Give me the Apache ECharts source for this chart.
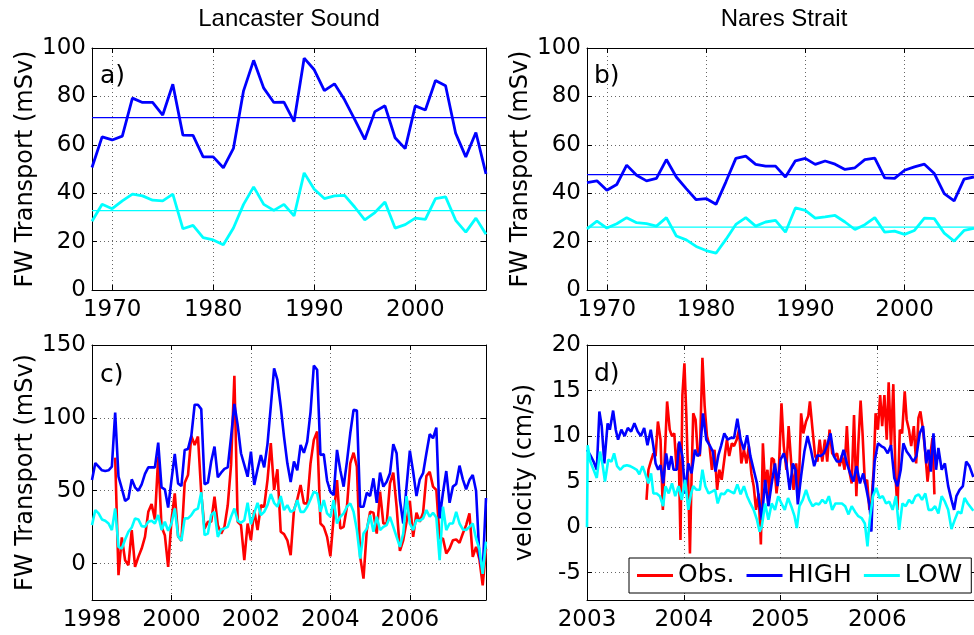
<!DOCTYPE html>
<html><head><meta charset="utf-8">
<script src="https://cdn.jsdelivr.net/npm/echarts@6/dist/echarts.min.js"></script>
<style>html,body{margin:0;padding:0;background:#fff}#c{width:974px;height:635px}</style>
</head><body><div id="c"></div><script>
// ---------- data ----------
const annualYears = [1968,1969,1970,1971,1972,1973,1974,1975,1976,1977,1978,1979,1980,1981,1982,1983,1984,1985,1986,1987,1988,1989,1990,1991,1992,1993,1994,1995,1996,1997,1998,1999,2000,2001,2002,2003,2004,2005,2006,2007];
const lancHigh = [50.6,63.3,62,63.6,79.3,77.5,77.5,72.3,85,64,63.9,55,55,50.5,58.5,82.3,94.9,83.4,77.5,77.6,69.6,95.8,91,82.4,85.2,78.6,70.5,62.2,73.7,76.1,62.9,58.4,76.1,74.4,86.6,84.4,64.7,55,65.1,48];
const lancLow = [28.4,35.4,33.6,36.8,39.6,38.9,37.1,36.8,39.6,25.3,26.7,21.6,20.7,18.7,25.6,35.4,42.6,35.4,32.9,35.4,30.6,48.4,41.6,37.8,38.9,39.1,34.3,29,32,36.4,25.6,27,29.7,29.2,37.8,38.5,28.8,23.9,29.7,23];
const lancHighMean = 71.2, lancLowMean = 32.8;
const naresHigh = [44.4,45.1,41.2,43.6,51.6,47.4,45.1,46.1,53.9,46.7,41.9,37.3,37.8,35.4,44.7,54.4,55.3,51.9,51.2,51.2,46.7,53.4,54.4,51.9,53.3,52,49.8,50.5,53.9,54.5,46.3,46.1,49.5,50.9,52,48.1,39.8,36.8,45.8,46.7];
const naresLow = [25.3,28.5,25.6,27.4,29.9,27.8,27.4,26.4,29.9,22.3,20.7,18,16.3,15.2,20.9,27.1,29.9,26.4,28.1,28.8,23.9,33.9,32.9,29.7,30.2,30.8,28.1,25,27,29.9,23.9,24.3,23,24.6,29.7,29.5,23.5,20.2,24.6,25.5];
const naresHighMean = 47.7, naresLowMean = 26.0;

// panel c: monthly, Jan 1998 .. Dec 2007
const monthlyStart = 1998;
const cHigh = [57.3,69,66.5,64,63.5,64,66.5,103.7,59.6,51.6,43,44.7,57.8,52.3,50,54.4,61.5,66,66,66,83,52.3,51,38.5,57.3,75.2,55,53.2,78,78.7,87.6,109,109,106,54.4,55.5,70,80.3,59.2,62.4,65,66,87,109.6,95,75.7,67.7,59.6,76.8,54,64.7,74.5,66,82,107.8,134,126,107.8,87,68.8,56,70,64,81.4,76,83.7,104,135.8,133,74.5,75,57,49.3,47,78,64,52.8,70,89.4,105.5,105,39,39,48.6,46.3,58.5,41.7,62.4,52.8,56.2,62,82,75.7,43.6,27.5,52.8,77.5,63,46.3,57.8,62,75.7,88.8,86,93.3,31,48.6,63.5,41.7,52.8,54.6,67.2,57.8,51,57.3,60.8,50,5,-5,45];
const cObs = [null,null,null,null,null,null,null,72.7,-8,18,2.3,-1.1,23,-2.3,4.6,10.3,18.3,35.5,40.8,30.3,73.4,25.2,19.5,-2.3,29.8,48.2,18.8,15.6,55.5,60.8,87.6,81.4,87.2,48.2,24,28.7,28.7,45.9,26.4,20.6,25.2,40,67.7,128.9,28.7,26.4,2.3,27.5,16,36.7,23,40,39,57.3,82.6,50.5,64.7,21.8,20.2,16,5.7,36.7,44,53.9,41.3,41.3,68.8,84.9,90.6,27.5,25.2,18.3,5,32,57.3,24,25.2,39,68.8,76.1,66.5,4.6,-10.3,22.9,35.5,34.9,20.6,49.3,27.5,27.5,55,62.4,39,8.7,16,28.7,43.1,18.3,34.9,28.7,34.9,60,63,52.8,50.5,17.2,17.2,6.9,10.3,16,16.5,14.2,20.6,26.4,34.4,4.6,11.5,3,-15,10];
const cLow = [26.4,36.7,34.4,30.3,29.4,27.5,23,37.8,11.5,10.3,16.5,21.8,24.8,31,30.3,25.7,25.2,28.7,29.4,27.5,33.3,23,28.7,22.5,27.5,37.8,18.8,15.6,31,31,33.3,36.7,37.8,48.9,19.5,20.6,33.3,35.5,18.3,23.4,24.1,25.2,32.1,37.8,29.4,28,29.8,41.7,27,34.4,41.7,33.3,35.5,40.1,47.7,41.7,39,46.3,36.7,40.1,35.5,36.7,43.6,35.5,35.5,39,44,49.3,48.2,35.5,43.6,34.4,32.1,43.6,27.5,32.1,34.4,39,41.3,35.5,23,3.4,20.6,24,33.3,21.8,32.1,23,25.2,26.4,32.1,25.2,18.3,11.5,20.6,46.3,27.5,23,29.8,29.4,31,36.7,32.1,34.9,31.7,2.3,39,23,27.5,27.5,35.5,27.5,23.4,23,25.2,27.5,17.2,10,-7,15];

// panel d: [decimal year, velocity cm/s]
const dObs = [[2003.615,3],[2003.635,6.3],[2003.659,7.2],[2003.686,8.1],[2003.709,7.8],[2003.733,11.6],[2003.760,9.6],[2003.784,1.9],[2003.804,7.8],[2003.828,13.8],[2003.855,10.7],[2003.878,10],[2003.902,10.3],[2003.926,6.3],[2003.946,9.2],[2003.966,-1.4],[2003.986,14.5],[2004.007,18],[2004.027,12.2],[2004.047,4.8],[2004.064,-2.9],[2004.081,5.6],[2004.098,12.5],[2004.122,11.8],[2004.142,8.5],[2004.166,7.8],[2004.193,18.6],[2004.216,13.3],[2004.240,10],[2004.267,8.9],[2004.291,6.3],[2004.318,8.5],[2004.345,4.1],[2004.368,6.3],[2004.392,5.2],[2004.419,7.4],[2004.446,9.6],[2004.470,7.8],[2004.497,9.2],[2004.520,8.9],[2004.547,9.6],[2004.571,10.7],[2004.595,7],[2004.622,8.5],[2004.649,7],[2004.672,8.9],[2004.699,5.9],[2004.723,4.5],[2004.747,1.9],[2004.774,3.7],[2004.797,-1.9],[2004.818,9.2],[2004.841,4.5],[2004.865,6.3],[2004.885,3.4],[2004.909,7.6],[2004.932,7.4],[2004.959,3.7],[2004.983,6.3],[2005.010,13.6],[2005.034,8.9],[2005.061,6.3],[2005.084,11.1],[2005.111,7],[2005.135,4.1],[2005.162,7],[2005.186,3.4],[2005.213,12.5],[2005.236,10.3],[2005.264,11.6],[2005.287,12.2],[2005.304,13.8],[2005.331,10.7],[2005.358,7.8],[2005.382,7.2],[2005.405,9.6],[2005.432,7.2],[2005.459,9.6],[2005.483,7.2],[2005.507,10.7],[2005.534,8.1],[2005.561,7.8],[2005.584,8.1],[2005.611,6.7],[2005.635,7.9],[2005.662,6.3],[2005.686,11.1],[2005.709,6.3],[2005.736,4.8],[2005.760,12.3],[2005.784,3.4],[2005.804,9],[2005.828,13.9],[2005.848,10.3],[2005.872,4.8],[2005.895,5.2],[2005.919,1.9],[2005.939,2.6],[2005.963,6.3],[2005.983,12.5],[2006.007,10.7],[2006.030,14.5],[2006.051,11.1],[2006.074,14.5],[2006.098,9.6],[2006.118,15.9],[2006.142,8.9],[2006.166,15.7],[2006.189,5.6],[2006.209,1.9],[2006.233,10.7],[2006.257,10.3],[2006.284,14.9],[2006.304,11.8],[2006.328,10.7],[2006.351,8.9],[2006.378,11.1],[2006.402,7],[2006.426,12],[2006.446,12.7],[2006.473,10.7],[2006.497,8.1],[2006.520,5],[2006.547,7.8],[2006.571,9.8],[2006.591,3.6]];
const dHigh = [[2003.000,8.5],[2003.034,7.9],[2003.068,7.2],[2003.101,6.3],[2003.128,12.7],[2003.152,11.1],[2003.179,7.0],[2003.213,11.4],[2003.236,10.7],[2003.270,12.8],[2003.297,10.7],[2003.321,9.6],[2003.355,10.7],[2003.389,10],[2003.422,10.9],[2003.456,10.5],[2003.490,11.4],[2003.524,10.5],[2003.557,10],[2003.591,10.9],[2003.625,9],[2003.659,10.7],[2003.686,8.9],[2003.709,7],[2003.736,6.3],[2003.760,6.8],[2003.787,4.8],[2003.818,8.1],[2003.845,6.3],[2003.872,7.8],[2003.895,6.3],[2003.929,6.3],[2003.953,9.4],[2003.986,7.8],[2004.014,3.7],[2004.047,7],[2004.081,5.9],[2004.115,8.5],[2004.142,7.8],[2004.166,8.1],[2004.199,12.5],[2004.233,9.6],[2004.267,9],[2004.301,8.3],[2004.328,6.1],[2004.358,7.9],[2004.385,8.9],[2004.419,10.3],[2004.453,9.6],[2004.486,9.8],[2004.520,9.8],[2004.554,11.9],[2004.588,9.6],[2004.622,8.5],[2004.655,10.1],[2004.689,7.8],[2004.723,6.3],[2004.757,4.8],[2004.791,1.9],[2004.807,0.8],[2004.841,5.2],[2004.875,2.3],[2004.909,4.8],[2004.943,7],[2004.970,4.5],[2005.000,7.4],[2005.034,8.1],[2005.061,7],[2005.095,4.1],[2005.128,7],[2005.155,6.3],[2005.179,2.5],[2005.213,5.6],[2005.247,8.3],[2005.280,10],[2005.314,8.5],[2005.348,6.7],[2005.382,7.9],[2005.416,7.8],[2005.449,8.1],[2005.483,9],[2005.517,10.3],[2005.551,7.8],[2005.584,7.2],[2005.618,7.2],[2005.652,8.5],[2005.686,7],[2005.720,5.9],[2005.753,5],[2005.787,6.7],[2005.821,4.8],[2005.855,5.9],[2005.889,4.1],[2005.922,2.3],[2005.939,-0.5],[2005.956,4.5],[2005.973,7.2],[2006.007,9.2],[2006.041,8.9],[2006.074,8.7],[2006.108,8.1],[2006.142,9],[2006.176,5.4],[2006.209,4.5],[2006.243,6.3],[2006.270,9.2],[2006.304,8.3],[2006.338,7.8],[2006.372,7.2],[2006.405,7.8],[2006.439,10.3],[2006.473,11.1],[2006.507,7],[2006.530,8.5],[2006.554,6.1],[2006.581,10.3],[2006.608,6.3],[2006.632,8.7],[2006.666,6.3],[2006.699,7],[2006.733,4.5],[2006.767,3],[2006.794,1.9],[2006.818,3.4],[2006.851,4.1],[2006.885,4.5],[2006.919,7.2],[2006.953,6.7],[2006.993,5.5]];
const dLow = [[2003.000,0],[2003.007,9],[2003.034,7.2],[2003.068,6.3],[2003.101,5.4],[2003.135,8.3],[2003.162,6.8],[2003.186,5],[2003.220,7.4],[2003.253,7.2],[2003.280,8.1],[2003.311,6.7],[2003.345,6.3],[2003.378,6.7],[2003.412,6.8],[2003.446,6.7],[2003.480,6.5],[2003.514,6.3],[2003.541,5.8],[2003.574,6.7],[2003.601,5.9],[2003.635,4.8],[2003.662,5.9],[2003.686,3.7],[2003.720,3.7],[2003.753,3.4],[2003.787,2.3],[2003.811,4.5],[2003.845,3.7],[2003.878,4.8],[2003.912,3.4],[2003.946,4.5],[2003.980,3],[2004.014,5.2],[2004.047,1.9],[2004.074,3.6],[2004.098,4.5],[2004.132,4.1],[2004.166,4.1],[2004.193,6.3],[2004.223,4.5],[2004.257,3.7],[2004.291,3.9],[2004.324,4.1],[2004.351,2.6],[2004.385,3.7],[2004.419,3.6],[2004.453,4.1],[2004.486,3.9],[2004.520,3.7],[2004.554,4.7],[2004.588,3.6],[2004.622,4.5],[2004.655,3.4],[2004.689,2.6],[2004.723,1.9],[2004.757,0.8],[2004.784,-0.5],[2004.807,0.1],[2004.841,2.6],[2004.875,0.8],[2004.909,2.6],[2004.943,1.9],[2004.976,3.4],[2005.010,2.6],[2005.044,1.9],[2005.078,3.2],[2005.111,2.3],[2005.145,1.2],[2005.169,-0.1],[2005.196,2.3],[2005.230,3],[2005.264,4.1],[2005.297,3],[2005.331,2.3],[2005.365,2.6],[2005.399,2.5],[2005.432,3],[2005.466,2.6],[2005.500,3.4],[2005.534,1.9],[2005.568,2.6],[2005.601,2.6],[2005.635,2.6],[2005.669,2.3],[2005.703,1.4],[2005.736,2.3],[2005.770,1.7],[2005.804,1.2],[2005.838,1],[2005.872,0.4],[2005.899,-2.1],[2005.922,0.8],[2005.956,3.4],[2005.990,4.3],[2006.024,3.2],[2006.057,3.4],[2006.091,2.6],[2006.125,2.8],[2006.159,1.9],[2006.193,3.4],[2006.226,-0.3],[2006.260,2.6],[2006.294,2.3],[2006.328,3],[2006.361,2.6],[2006.395,3.4],[2006.429,3.6],[2006.463,3],[2006.497,3.7],[2006.530,1.9],[2006.564,1.9],[2006.598,2.3],[2006.632,1.5],[2006.666,3.4],[2006.699,2.8],[2006.733,1.9],[2006.767,-0.2],[2006.801,0.8],[2006.834,1.7],[2006.868,1.5],[2006.902,3.2],[2006.936,2.6],[2006.993,1.8]];

// tick labels
const ticksAnnualX = [1970,1980,1990,2000];
const ticksAnnualY = [0,20,40,60,80,100];
const ticksMonthlyX = [1998,2000,2002,2004,2006];
const ticksCY = [0,50,100,150];
const ticksDX = [2003,2004,2005,2006];
const ticksDY = [-5,0,5,10,15,20];
const titles = ['Lancaster Sound','Nares Strait'];
const panelTags = ['a)','b)','c)','d)'];
const yNames = ['FW Transport (mSv)','FW Transport (mSv)','FW Transport (mSv)','velocity (cm/s)'];

// ---------- chart ----------
const BLUE='#0000ff', CYAN='#00ffff', RED='#ff0000';
const FONT='DejaVu Sans';
const grids = [
  {left:92, top:48, width:394, height:242},
  {left:587, top:48, width:394, height:242},
  {left:92, top:345, width:394, height:255},
  {left:587, top:345, width:394, height:255}
];
const ranges = [
  {x:[1968,2007], xt:ticksAnnualX, y:[0,100], yt:ticksAnnualY},
  {x:[1968,2007], xt:ticksAnnualX, y:[0,100], yt:ticksAnnualY},
  {x:[1998,1998+119/12], xt:ticksMonthlyX, y:[-25,150], yt:ticksCY},
  {x:[2003,2007], xt:ticksDX, y:[-8,20], yt:ticksDY}
];
const gridLine = {show:true, lineStyle:{color:'#666', type:[1,3], width:1}};
const xAxes=[], yAxes=[];
ranges.forEach((r,g)=>{
  ['bottom','top'].forEach(pos=>{
    xAxes.push({type:'value', gridIndex:g, position:pos, min:r.x[0], max:r.x[1],
      axisLine:{show:true, onZero:false, lineStyle:{color:'#000', width:1}},
      axisTick:{show:true, inside:true, length:5, customValues:r.xt, lineStyle:{color:'#000'}},
      axisLabel:{show:pos==='bottom', customValues:r.xt, margin:9, color:'#000', fontFamily:FONT, fontSize:23,
        formatter:v=>String(Math.round(v))},
      splitLine: pos==='bottom' ? gridLine : {show:false}
    });
  });
  ['left','right'].forEach(pos=>{
    yAxes.push({type:'value', gridIndex:g, position:pos, min:r.y[0], max:r.y[1],
      name: pos==='left' ? yNames[g] : '', nameLocation:'middle', nameGap:50,
      nameTextStyle:{fontFamily:FONT, fontSize:24, color:'#000'},
      axisLine:{show:true, onZero:false, lineStyle:{color:'#000', width:1}},
      axisTick:{show:true, inside:true, length:5, customValues:r.yt, lineStyle:{color:'#000'}},
      axisLabel:{show:pos==='left', customValues:r.yt, margin:6, color:'#000', fontFamily:FONT, fontSize:23,
        formatter:v=>String(Math.round(v))},
      splitLine: pos==='left' ? gridLine : {show:false}
    });
  });
});

function line(name, g, data, color, width){
  return {type:'line', name, xAxisIndex:2*g, yAxisIndex:2*g, data, symbol:'none', showSymbol:false,
    lineStyle:{color, width}, itemStyle:{color}, animation:false, silent:true, z:3};
}
const pair = (xs, ys) => xs.map((x,i)=>[x, ys[i]]);
const monthX = i => monthlyStart + i/12;
const monthly = arr => arr.map((v,i)=> v==null ? null : [monthX(i), v]).filter(p=>p);
const flat = (m) => [[annualYears[0], m],[annualYears[annualYears.length-1], m]];

const series = [
  line('HIGH',0,pair(annualYears,lancHigh),BLUE,2.8),
  line('LOW',0,pair(annualYears,lancLow),CYAN,2.8),
  line('HIGH mean a',0,flat(lancHighMean),BLUE,1.2),
  line('LOW mean a',0,flat(lancLowMean),CYAN,1.2),
  line('HIGH',1,pair(annualYears,naresHigh),BLUE,2.8),
  line('LOW',1,pair(annualYears,naresLow),CYAN,2.8),
  line('HIGH mean b',1,flat(naresHighMean),BLUE,1.2),
  line('LOW mean b',1,flat(naresLowMean),CYAN,1.2),
  line('Obs.',2,monthly(cObs),RED,2.6),
  line('HIGH',2,monthly(cHigh),BLUE,2.6),
  line('LOW',2,monthly(cLow),CYAN,2.6),
  line('Obs.',3,dObs,RED,2.6),
  line('HIGH',3,dHigh,BLUE,2.6),
  line('LOW',3,dLow,CYAN,2.6)
];

const graphic = [];
const titleX = [289, 784];
titles.forEach((t,i)=>graphic.push({type:'text', x:titleX[i], y:19, style:{text:t, fill:'#000',
  font:'24px "Liberation Sans Narrow", "Liberation Sans", sans-serif', textAlign:'center', textVerticalAlign:'middle'}}));
const tagPos = [[100,76],[594,76],[100,375],[594,374]];
panelTags.forEach((t,i)=>graphic.push({type:'text', x:tagPos[i][0], y:tagPos[i][1], z:10, style:{text:t, fill:'#000',
  font:'25px "DejaVu Sans"', textAlign:'left', textVerticalAlign:'middle'}}));

const chart = echarts.init(document.getElementById('c'), null, {renderer:'canvas'});
chart.setOption({
  animation:false,
  backgroundColor:'#fff',
  grid: grids,
  xAxis: xAxes,
  yAxis: yAxes,
  series,
  graphic,
  legend:{data:['Obs.','HIGH','LOW'], left:629, top:558, orient:'horizontal', selectedMode:false,
    backgroundColor:'#fff', borderColor:'#000', borderWidth:1, borderRadius:0,
    padding:[5,9,5,8], itemGap:12, itemWidth:36, itemHeight:3, icon:'rect',
    textStyle:{fontFamily:FONT, fontSize:25, color:'#000'}, z:20}
});
</script></body></html>
